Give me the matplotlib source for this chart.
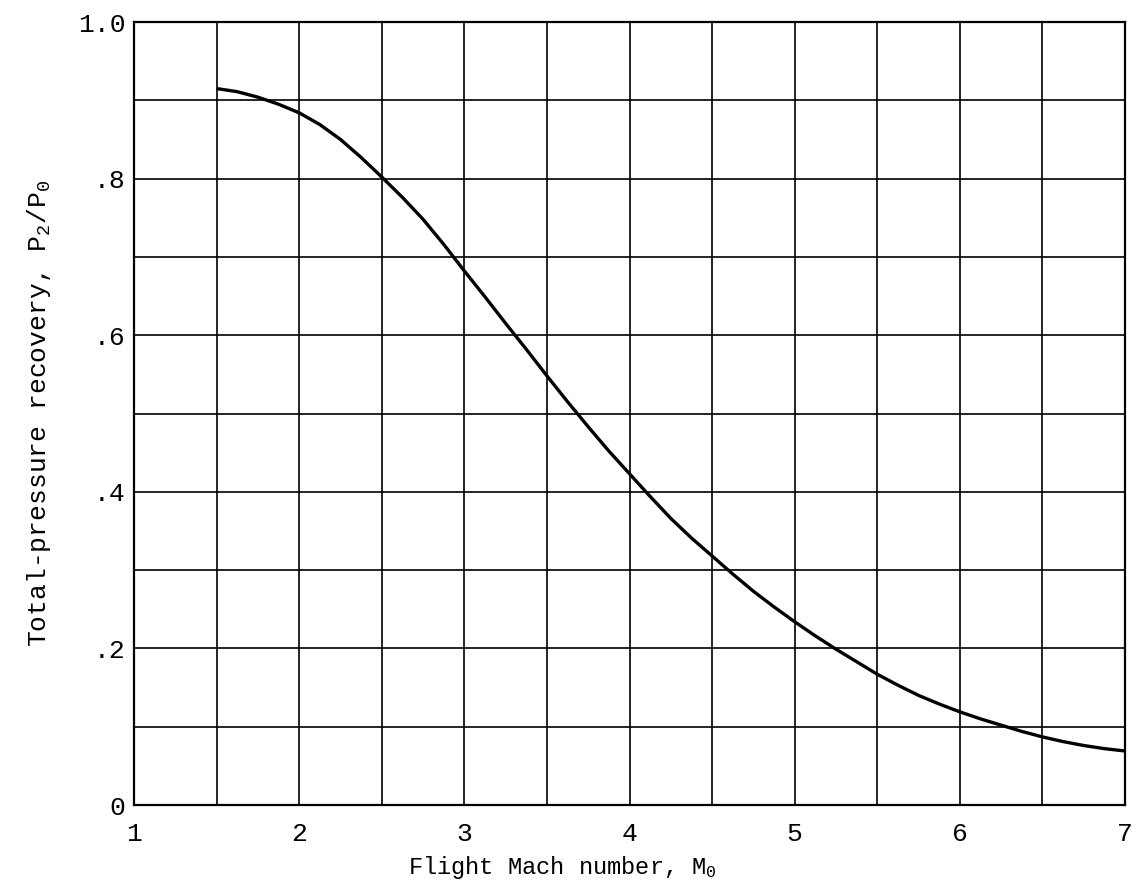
import numpy as np
import matplotlib.pyplot as plt
from matplotlib.ticker import MultipleLocator

# values
mach = [1.5, 1.625, 1.75, 1.875, 2.0, 2.125, 2.25, 2.375, 2.5, 2.625, 2.75,
        2.875, 3.0, 3.125, 3.25, 3.375, 3.5, 3.625, 3.75, 3.875, 4.0, 4.125,
        4.25, 4.375, 4.5, 4.625, 4.75, 4.875, 5.0, 5.125, 5.25, 5.375, 5.5,
        5.625, 5.75, 5.875, 6.0, 6.125, 6.25, 6.375, 6.5, 6.625, 6.75, 6.875, 7.0]
recovery = [0.915, 0.911, 0.904, 0.895, 0.884, 0.869, 0.850, 0.827, 0.802, 0.776, 0.748,
            0.716, 0.682, 0.649, 0.615, 0.582, 0.548, 0.515, 0.483, 0.452, 0.423, 0.394,
            0.366, 0.341, 0.318, 0.295, 0.273, 0.253, 0.234, 0.216, 0.199, 0.183, 0.167,
            0.153, 0.140, 0.129, 0.119, 0.110, 0.102, 0.094, 0.087, 0.081, 0.076, 0.072, 0.069]

x_ticks = [1, 2, 3, 4, 5, 6, 7]
x_labels = ["1", "2", "3", "4", "5", "6", "7"]
y_ticks = [0, 0.2, 0.4, 0.6, 0.8, 1.0]
y_labels = ["0", ".2", ".4", ".6", ".8", "1.0"]

plt.rcParams['font.family'] = ['Liberation Mono', 'DejaVu Sans Mono']
plt.rcParams['mathtext.default'] = 'regular'

fig = plt.figure(figsize=(11.38, 8.91), dpi=100)
ax = fig.add_axes([0.1178, 0.0965, 0.8708, 0.8788])

ax.plot(mach, recovery, color='black', linewidth=2.4,
        solid_capstyle='butt', solid_joinstyle='round')

ax.set_xlim(1, 7)
ax.set_ylim(0, 1.0)
ax.set_xticks(x_ticks)
ax.set_xticklabels(x_labels)
ax.set_yticks(y_ticks)
ax.set_yticklabels(y_labels)
ax.xaxis.set_minor_locator(MultipleLocator(0.5))
ax.yaxis.set_minor_locator(MultipleLocator(0.1))
ax.tick_params(which='both', length=0, labelsize=19, colors='black')
ax.tick_params(axis='x', pad=12)
ax.tick_params(axis='y', pad=6)

ax.grid(True, which='both', color='black', linewidth=1.2)
ax.set_axisbelow(True)
for s in ax.spines.values():
    s.set_linewidth(1.6)
    s.set_color('black')

ax.set_xlabel("Flight Mach number, M$_0$", fontsize=17, labelpad=6)
ax.xaxis.label.set_x(0.432)
ax.set_ylabel("Total-pressure recovery, P$_2$/P$_0$", fontsize=19, labelpad=18)

fig.savefig("out.png", dpi=100, facecolor='white')
